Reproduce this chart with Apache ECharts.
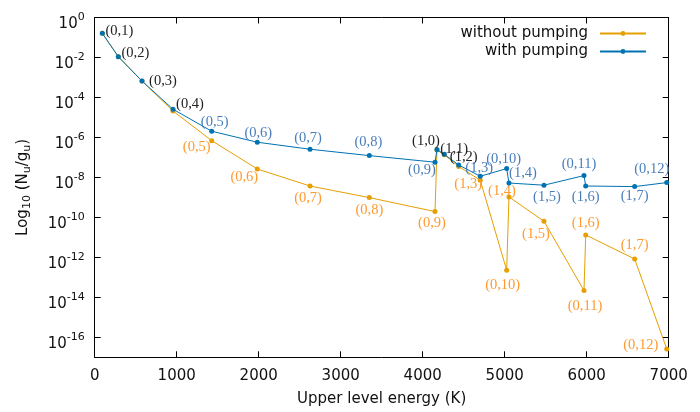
<!DOCTYPE html>
<html><head><meta charset="utf-8">
<script src="https://cdn.jsdelivr.net/npm/echarts@6/dist/echarts.min.js"></script>
<style>html,body{margin:0;padding:0;background:#fff}#c{width:700px;height:412px}</style>
</head><body><div id="c"></div>
<script>
// Level labels (v,J) in order of upper level energy
const levels = ['(0,1)','(0,2)','(0,3)','(0,4)','(0,5)','(0,6)','(0,7)','(0,8)','(0,9)','(1,0)','(1,1)','(1,2)','(1,3)','(0,10)','(1,4)','(1,5)','(0,11)','(1,6)','(1,7)','(0,12)'];
// Upper level energy (K)
const energy = [93, 288, 577, 955, 1427, 1983, 2626, 3349, 4150, 4174, 4263, 4439, 4702, 5024, 5052, 5479, 5967, 5988, 6585, 6976];
// log10(N_u/g_u)
const logWithout = [-0.79, -1.96, -3.18, -4.68, -6.16, -7.58, -8.43, -9.01, -9.71, -6.63, -6.87, -7.45, -8.14, -12.64, -8.98, -10.19, -13.66, -10.88, -12.08, -16.58];
const logWith = [-0.79, -1.96, -3.18, -4.59, -5.69, -6.24, -6.59, -6.91, -7.24, -6.61, -6.84, -7.38, -7.94, -7.56, -8.28, -8.39, -7.91, -8.43, -8.46, -8.26];
const seriesNames = ['without pumping', 'with pumping'];
const xTicks = [0, 1000, 2000, 3000, 4000, 5000, 6000, 7000];
const yTickExp = [0, -2, -4, -6, -8, -10, -12, -14, -16];

// label placement (style only)
const sharedLevels = ['(0,1)','(0,2)','(0,3)','(0,4)','(1,0)','(1,1)','(1,2)'];
const blueOff = {'(0,1)':[17,-2],'(0,2)':[17,-3],'(0,3)':[21,0],'(0,4)':[17,-5],'(0,5)':[3,-9],'(0,6)':[1,-9],
  '(0,7)':[-2,-11],'(0,8)':[-1,-13],'(0,9)':[-13,8],'(1,0)':[-11,-8],'(1,1)':[10,-5],'(1,2)':[5,-8],'(1,3)':[-1,-8],
  '(0,10)':[-3,-9],'(1,4)':[14,-10],'(1,5)':[3,12],'(0,11)':[-5,-11],'(1,6)':[0,11],'(1,7)':[0,10],'(0,12)':[-15,-13]};
const orangeOff = {'(0,5)':[-15,7],'(0,6)':[-13,8],'(0,7)':[-2,12],'(0,8)':[0,13],'(0,9)':[-3,12],'(1,3)':[-12,4],
  '(0,10)':[-4,15],'(1,4)':[-7,-6],'(1,5)':[-8,13],'(0,11)':[1,16],'(1,6)':[0,-12],'(1,7)':[0,-14],'(0,12)':[-26,-4]};

const BLUE = '#0072b2', ORANGE = '#e69f00';
const BLUE_T = '#4a7ebb', ORANGE_T = '#ff9a30', BLACK_T = '#222';
const SANS = 'DejaVu Sans', SERIF = 'Liberation Serif';

function build(vals, offs, textColor, isBlue) {
  return energy.map((e, i) => {
    const name = levels[i];
    const off = offs[name];
    const item = {name: name, value: [e, vals[i]]};
    if (off) {
      item.label = {show: true, position: 'inside', offset: off,
        color: (isBlue && sharedLevels.includes(name)) ? BLACK_T : textColor};
    } else {
      item.label = {show: false};
    }
    return item;
  });
}

const chart = echarts.init(document.getElementById('c'), null, {renderer: 'canvas'});
const axisCommon = {
  axisLine: {show: true, onZero: false, lineStyle: {color: '#000', width: 1}},
  axisTick: {show: true, inside: true, length: 6, lineStyle: {color: '#000', width: 1}},
  splitLine: {show: false}
};
const labelSeries = {show: true, formatter: '{b}', fontFamily: SERIF, fontSize: 14.5};

chart.setOption({
  animation: false,
  backgroundColor: '#fff',
  grid: {left: 94.7, right: 31.3, top: 17.5, bottom: 54.7, containLabel: false},
  legend: {
    orient: 'vertical', right: 53, top: 25, align: 'right', padding: 0,
    itemWidth: 46, itemHeight: 6, itemGap: 1,
    textStyle: {fontFamily: SANS, fontSize: 15, color: '#111', lineHeight: 17, padding: [0, 7, 0, 0]},
    data: seriesNames
  },
  xAxis: [
    Object.assign({}, axisCommon, {
      type: 'value', min: xTicks[0], max: xTicks[xTicks.length - 1], interval: 1000, position: 'bottom',
      axisLabel: {margin: 11, fontFamily: SANS, fontSize: 15, color: '#111', formatter: v => String(v)},
      name: 'Upper level energy (K)', nameLocation: 'middle', nameGap: 34,
      nameTextStyle: {fontFamily: SANS, fontSize: 15, color: '#111'}
    }),
    Object.assign({}, axisCommon, {
      type: 'value', min: xTicks[0], max: xTicks[xTicks.length - 1], interval: 1000, position: 'top',
      axisLabel: {show: false}
    })
  ],
  yAxis: [
    Object.assign({}, axisCommon, {
      type: 'value', min: -17, max: 0, interval: 1, position: 'left',
      axisTick: Object.assign({}, axisCommon.axisTick, {customValues: yTickExp}),
      axisLabel: {
        customValues: yTickExp, margin: 10, padding: [9, 0, 0, 0],
        formatter: v => '{b|10}{s|' + v + '}',
        rich: {
          b: {fontFamily: SANS, fontSize: 15, color: '#111', lineHeight: 20, verticalAlign: 'bottom'},
          s: {fontFamily: SANS, fontSize: 11, color: '#111', lineHeight: 9, verticalAlign: 'top'}
        }
      },
      name: '{a|Log}{sub|10}{a| (N}{sub|u}{a|/g}{sub|u}{a|)}', nameLocation: 'middle', nameGap: 62, nameRotate: 90,
      nameTextStyle: {
        rich: {
          a: {fontFamily: SANS, fontSize: 15, color: '#111', lineHeight: 20},
          sub: {fontFamily: SANS, fontSize: 11, color: '#111', lineHeight: 12, verticalAlign: 'bottom'}
        }
      }
    }),
    Object.assign({}, axisCommon, {
      type: 'value', min: -17, max: 0, interval: 1, position: 'right',
      axisTick: Object.assign({}, axisCommon.axisTick, {customValues: yTickExp}),
      axisLabel: {show: false}
    })
  ],
  series: [
    {
      name: seriesNames[0], type: 'line', xAxisIndex: 0, yAxisIndex: 0,
      data: build(logWithout, orangeOff, ORANGE_T, false),
      symbol: 'circle', symbolSize: 5, showAllSymbol: true,
      lineStyle: {color: ORANGE, width: 1}, itemStyle: {color: ORANGE},
      label: labelSeries, emphasis: {disabled: true}, z: 2
    },
    {
      name: seriesNames[1], type: 'line', xAxisIndex: 0, yAxisIndex: 0,
      data: build(logWith, blueOff, BLUE_T, true),
      symbol: 'circle', symbolSize: 5, showAllSymbol: true,
      lineStyle: {color: BLUE, width: 1}, itemStyle: {color: BLUE},
      label: labelSeries, emphasis: {disabled: true}, z: 3
    }
  ]
});
</script></body></html>
